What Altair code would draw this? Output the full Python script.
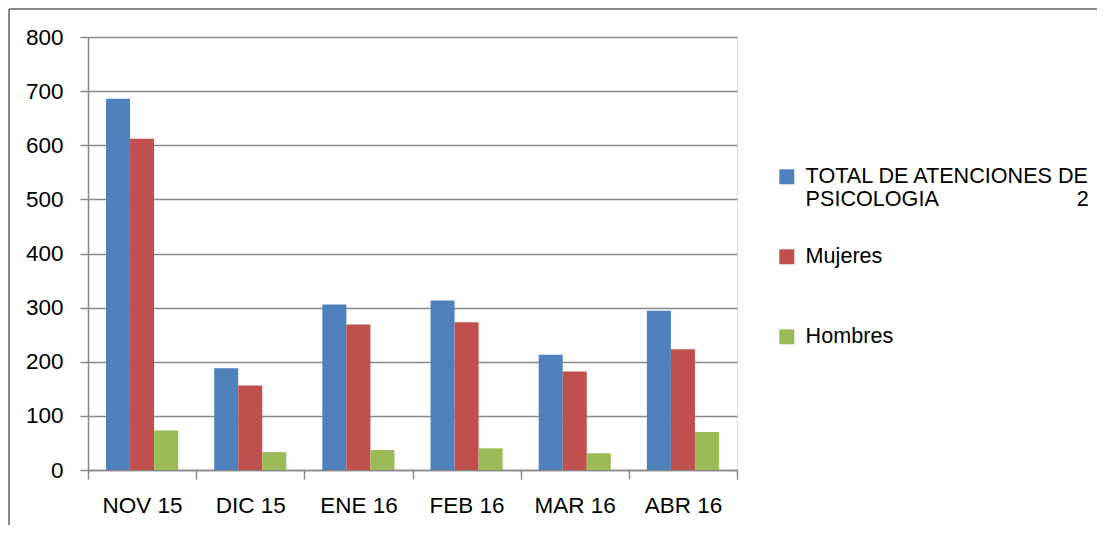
import altair as alt
import pandas as pd

months = ["NOV 15", "DIC 15", "ENE 16", "FEB 16", "MAR 16", "ABR 16"]
series = ["TOTAL DE ATENCIONES DE PSICOLOGIA 2", "Mujeres", "Hombres"]
total = [686, 188, 306, 313, 213, 294]
mujeres = [612, 156, 269, 273, 182, 223]
hombres = [73, 33, 37, 40, 31, 70]
colors = ["#4F81BD", "#C0504D", "#9BBB59"]
y_ticks = [0, 100, 200, 300, 400, 500, 600, 700, 800]

rows = []
for name, vals in zip(series, [total, mujeres, hombres]):
    for m, v in zip(months, vals):
        rows.append({"mes": m, "serie": name, "valor": v})
df = pd.DataFrame(rows)

GREY = "#898989"
FONT = "Liberation Sans"
NB = "\u00a0"
label_expr = (
    "datum.label == '" + series[0] + "' ? "
    "['TOTAL DE ATENCIONES DE', 'PSICOLOGIA" + NB * 23 + "2'] : [datum.label, '']"
)

bars = alt.Chart(df).mark_bar().encode(
    x=alt.X("mes:N", sort=months,
            scale=alt.Scale(paddingInner=0, paddingOuter=0),
            axis=alt.Axis(title=None, labelAngle=0, tickBand="extent", tickSize=9,
                          labelPadding=15, labelFontSize=22.5, labelColor="black",
                          domainColor=GREY, tickColor=GREY, domainWidth=1.5,
                          tickWidth=1.5, grid=False, labelFont=FONT)),
    xOffset=alt.XOffset("serie:N", sort=series,
                        scale=alt.Scale(paddingInner=0, paddingOuter=0.75)),
    y=alt.Y("valor:Q", scale=alt.Scale(domain=[0, 800], nice=False),
            axis=alt.Axis(title=None, values=y_ticks, tickSize=8, labelPadding=17,
                          labelFontSize=22.5, labelColor="black", labelFont=FONT,
                          gridColor=GREY, gridWidth=1.5, domainColor=GREY,
                          domainWidth=1.5, tickColor=GREY, tickWidth=1.5)),
    color=alt.Color("serie:N", sort=series,
                    scale=alt.Scale(domain=series, range=colors),
                    legend=alt.Legend(title=None, orient="none", legendX=688, legendY=129,
                                      symbolType="square", symbolSize=225,
                                      symbolStrokeWidth=0, labelFontSize=21.6,
                                      labelFont=FONT, labelColor="black",
                                      labelLimit=500, labelOffset=8, rowPadding=34,
                                      labelExpr=label_expr)),
)

frame_left = alt.Chart(df).mark_rule(color=GREY, strokeWidth=1.5).encode(
    x=alt.value(-79), y=alt.value(-28), y2=alt.value(500)
)
frame_top = alt.Chart(df).mark_rule(color=GREY, strokeWidth=1.5).encode(
    x=alt.value(-79), x2=alt.value(1009), y=alt.value(-28)
)

chart = alt.layer(frame_left, frame_top, bars).properties(
    width=649, height=433,
    autosize=alt.AutoSizeParams(type="none"),
    padding={"left": 80, "top": 29, "right": 360, "bottom": 55},
).configure_view(stroke=None).configure(font=FONT)

chart.save("out.html", embed_options={"renderer": "svg", "actions": False})
